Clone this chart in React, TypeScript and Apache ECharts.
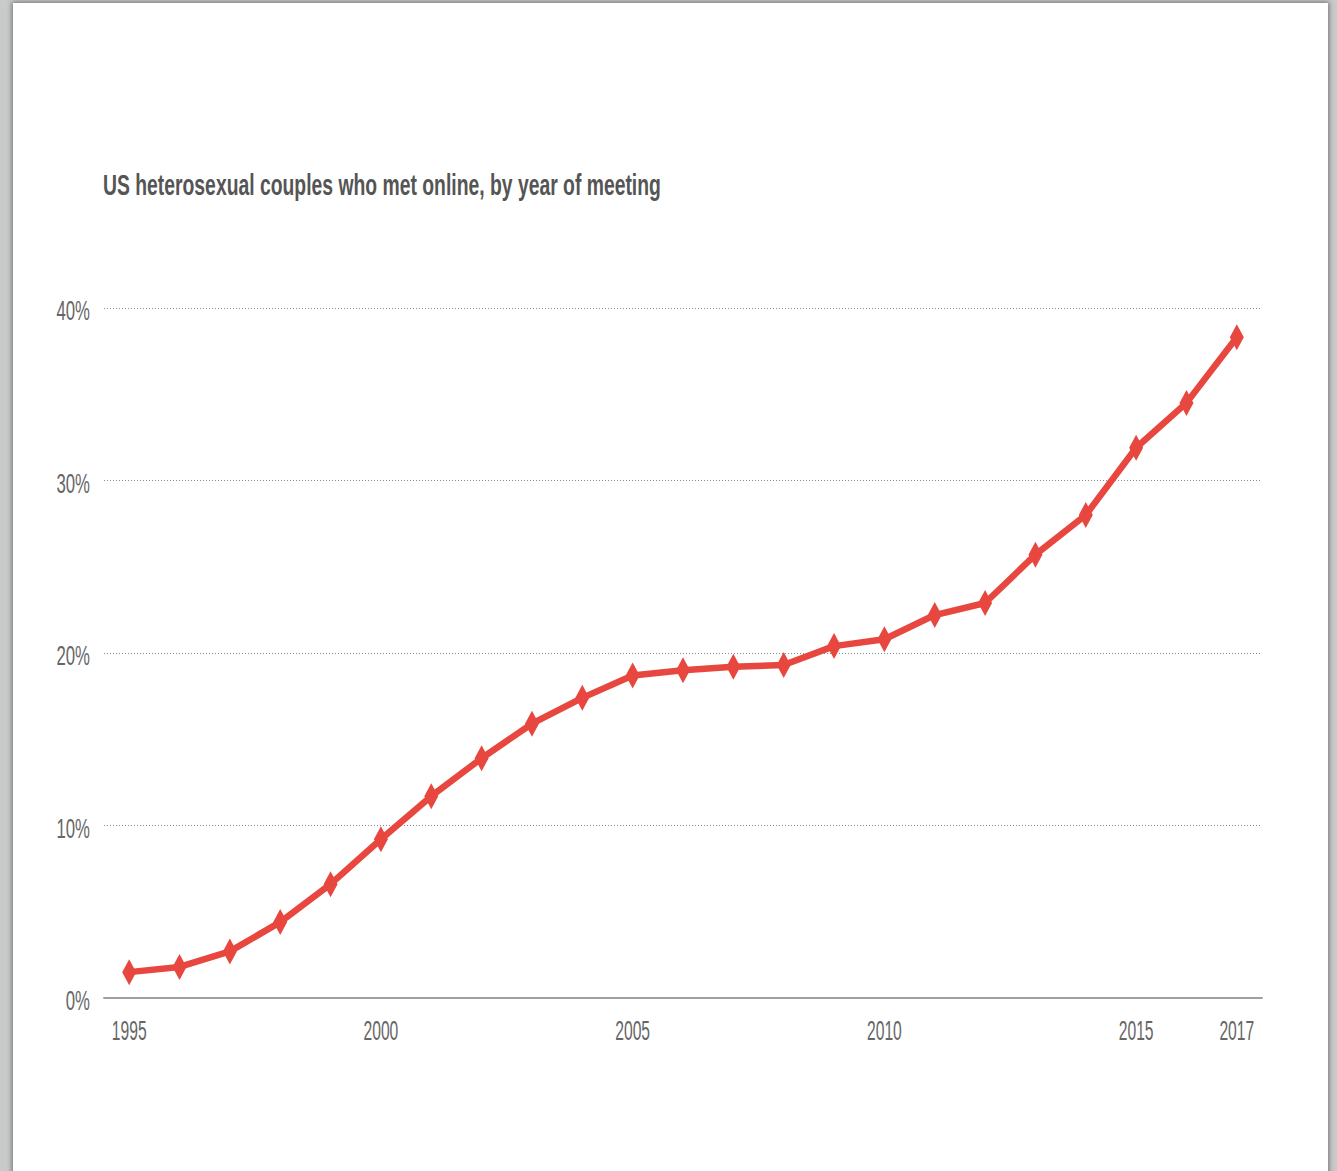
import React, { useEffect, useRef } from "react";
import * as echarts from "echarts";

const years = [
  "1995", "1996", "1997", "1998", "1999", "2000", "2001", "2002", "2003", "2004",
  "2005", "2006", "2007", "2008", "2009", "2010", "2011", "2012", "2013", "2014",
  "2015", "2016", "2017",
];
const metOnline = [
  1.5, 1.8, 2.7, 4.4, 6.6, 9.2, 11.7, 13.9, 15.9, 17.4,
  18.7, 19.0, 19.2, 19.3, 20.4, 20.8, 22.2, 22.9, 25.7, 28.0,
  31.9, 34.5, 38.3,
];
const xTickLabels = ["1995", "2000", "2005", "2010", "2015", "2017"];
const yTicks = [0, 10, 20, 30, 40];
const titleText = "US heterosexual couples who met online, by year of meeting";

const FONT = "'Liberation Sans', Arial, sans-serif";

function measure(text: string, font: string): number {
  const c = document.createElement("canvas").getContext("2d");
  if (!c) return text.length * 10;
  c.font = font;
  return c.measureText(text).width;
}

export default function App() {
  const ref = useRef<HTMLDivElement>(null);
  useEffect(() => {
    if (!ref.current) return;
    const chart = echarts.init(ref.current, undefined, { renderer: "svg" });
    chart.setOption({
      animation: false,
      backgroundColor: "transparent",
      grid: { left: 104, right: 75, top: 308, bottom: 173, containLabel: false },
      xAxis: {
        type: "category",
        data: years,
        boundaryGap: true,
        axisLine: { show: true, lineStyle: { color: "#a0a0a0", width: 2 } },
        axisTick: { show: false },
        axisLabel: { show: false },
        splitLine: { show: false },
      },
      yAxis: {
        type: "value",
        min: yTicks[0],
        max: yTicks[yTicks.length - 1],
        interval: 10,
        axisLine: { show: false },
        axisTick: { show: false },
        axisLabel: { show: false },
        splitLine: {
          show: true,
          lineStyle: { color: "#8a8a8a", type: [1, 2], width: 1 },
        },
      },
      series: [
        {
          type: "line",
          data: metOnline,
          symbol: "diamond",
          symbolSize: [14, 26],
          lineStyle: { color: "#e8473f", width: 6.5 },
          itemStyle: { color: "#e8473f" },
          z: 5,
        },
      ],
    });

    // Condensed text: real text elements, squeezed horizontally, placed through the axes' scales.
    const labelSize = 27;
    const yAxisX = chart.convertToPixel({ xAxisIndex: 0 }, years[0]) as number;
    const gridLeft = yAxisX - ((chart.convertToPixel({ xAxisIndex: 0 }, years[1]) as number) - yAxisX) / 2;
    const zeroY = chart.convertToPixel({ yAxisIndex: 0 }, 0) as number;

    const yLabelEls = yTicks.map((v) => ({
      type: "text",
      x: gridLeft - 14,
      y: (chart.convertToPixel({ yAxisIndex: 0 }, v) as number) + 3,
      scaleX: 0.62,
      style: {
        text: `${v}%`,
        fontFamily: FONT,
        fontSize: labelSize,
        fill: "#666666",
        align: "right",
        verticalAlign: "middle",
      },
    }));
    const xLabelEls = xTickLabels.map((t) => ({
      type: "text",
      x: chart.convertToPixel({ xAxisIndex: 0 }, t) as number,
      y: zeroY + 33,
      scaleX: 0.58,
      style: {
        text: t,
        fontFamily: FONT,
        fontSize: labelSize,
        fill: "#666666",
        align: "center",
        verticalAlign: "middle",
      },
    }));
    const titleFontSize = 30;
    const titleW = measure(titleText, `bold ${titleFontSize}px ${FONT}`);
    const titleEl = {
      type: "text",
      x: 103,
      y: 184,
      scaleX: 558 / titleW,
      style: {
        text: titleText,
        fontFamily: FONT,
        fontWeight: "bold",
        fontSize: titleFontSize,
        fill: "#555555",
        align: "left",
        verticalAlign: "middle",
      },
    };
    chart.setOption({ graphic: [titleEl, ...yLabelEls, ...xLabelEls] });
    return () => chart.dispose();
  }, []);

  return (
    <div
      style={{
        position: "fixed",
        left: 0,
        top: 0,
        width: 1337,
        height: 1171,
        background: "#c9cbca",
        overflow: "hidden",
      }}
    >
      <div
        style={{
          position: "absolute",
          left: 13,
          top: 3,
          width: 1315,
          height: 1200,
          background: "#ffffff",
          boxShadow: "0 0 5px 1px rgba(0,0,0,0.45)",
        }}
      />
      <div
        ref={ref}
        style={{ position: "absolute", left: 0, top: 0, width: 1337, height: 1171 }}
      />
    </div>
  );
}
